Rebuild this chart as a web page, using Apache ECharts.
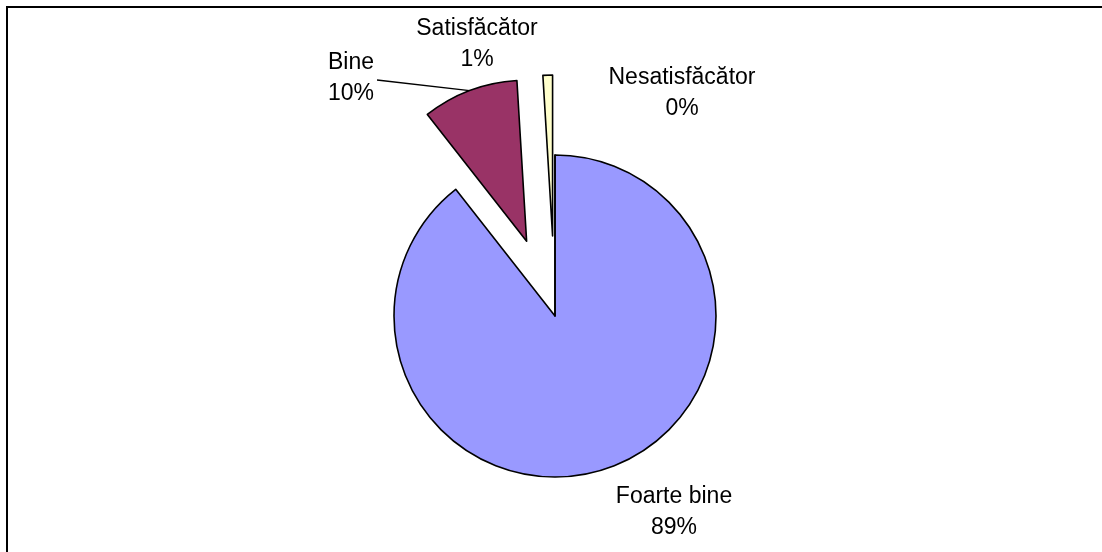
<!DOCTYPE html>
<html>
<head>
<meta charset="utf-8">
<script src="https://cdn.jsdelivr.net/npm/echarts@6/dist/echarts.min.js"></script>
<style>
html,body{margin:0;padding:0;background:#fff;}
#chart{width:1102px;height:552px;}
</style>
</head>
<body>
<div id="chart"></div>
<script>
const categories = ['Foarte bine', 'Bine', 'Satisfăcător', 'Nesatisfăcător'];
const values = [93, 10, 1, 0];
const exploded = [false, true, true, false];

const colors = ['#9999FF', '#993366', '#FFFFCC', '#CCFFFF'];
const CENTER = [555, 316];
const RADIUS = 161;
const OFFSET = 80;
const labelPos = [
  [674, 512],
  [351, 78],
  [477, 44],
  [682, 93]
];

const total = values.reduce((a, b) => a + b, 0);
function midAngle(i) {
  let cum = 0;
  for (let k = 0; k < i; k++) cum += values[k];
  return (cum + values[i] / 2) / total * 2 * Math.PI;
}

const chart = echarts.init(document.getElementById('chart'), null, {renderer: 'canvas'});
chart.setOption({
  animation: false,
  backgroundColor: '#ffffff',
  graphic: [{
    type: 'rect',
    shape: {x: 7, y: 7, width: 1200, height: 700},
    style: {fill: 'none', stroke: '#000', lineWidth: 2},
    silent: true
  }],
  series: [{
    type: 'pie',
    center: CENTER,
    radius: RADIUS,
    startAngle: 90,
    clockwise: true,
    selectedMode: 'multiple',
    selectedOffset: OFFSET,
    emphasis: {disabled: true},
    silent: true,
    itemStyle: {borderColor: '#000', borderWidth: 1.6},
    label: {show: false},
    labelLine: {show: false},
    data: categories.map((c, i) => ({
      name: c,
      value: values[i],
      selected: exploded[i],
      itemStyle: {color: colors[i]}
    }))
  }, {
    type: 'pie',
    center: CENTER,
    radius: RADIUS,
    startAngle: 90,
    clockwise: true,
    selectedMode: false,
    silent: true,
    avoidLabelOverlap: false,
    emphasis: {disabled: true},
    itemStyle: {color: 'rgba(0,0,0,0)', borderWidth: 0},
    label: {
      show: true,
      position: 'outside',
      color: '#000',
      fontFamily: 'Liberation Sans, Arial, sans-serif',
      fontSize: 23,
      lineHeight: 31,
      align: 'center',
      formatter: p => p.name + '\n' + Math.round(p.percent) + '%'
    },
    labelLine: {show: false},
    labelLayout: function (params) {
      const i = params.dataIndex;
      const pos = labelPos[i];
      const res = {x: pos[0], y: pos[1], align: 'center', verticalAlign: 'middle'};
      if (i === 1) {
        const a = midAngle(i);
        const d = OFFSET + RADIUS;
        const end = [CENTER[0] + d * Math.sin(a), CENTER[1] - d * Math.cos(a)];
        const start = [pos[0] + params.labelRect.width / 2 + 3, pos[1] + 2];
        res.labelLinePoints = [start, end];
      }
      return res;
    },
    data: categories.map((c, i) => ({
      name: c,
      value: values[i],
      labelLine: i === 1 ? {show: true, lineStyle: {color: '#000', width: 1.3}} : {show: false}
    }))
  }]
});
</script>
</body>
</html>
